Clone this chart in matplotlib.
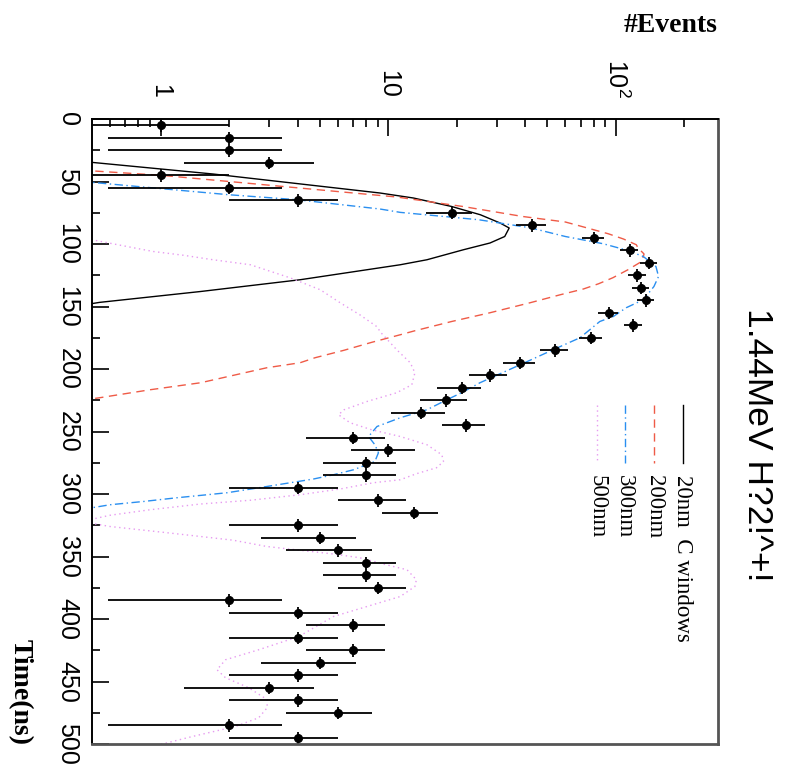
import numpy as np
import matplotlib
matplotlib.use("Agg")
import matplotlib.pyplot as plt
from matplotlib.ticker import FixedLocator, NullFormatter

plt.rcParams['font.family'] = ['Liberation Sans', 'DejaVu Sans']

# measured data: 10 ns bins, counts per bin
time_bins = [5, 15, 25, 35, 45, 55, 65, 75, 85, 95,
             105, 115, 125, 135, 145, 155, 165, 175, 185, 195,
             205, 215, 225, 235, 245, 255, 265, 275, 285, 295,
             305, 315, 325, 335, 345, 355, 365, 375, 385, 395,
             405, 415, 425, 435, 445, 455, 465, 475, 485, 495]
counts = [1, 2, 2, 3, 1, 2, 4, 19, 43, 80,
          115, 140, 124, 129, 135, 93, 119, 78, 54, 38,
          28, 21, 18, 14, 22, 7, 10, 8, 8, 4,
          9, 13, 4, 5, 6, 8, 8, 9, 2, 4,
          7, 4, 7, 5, 4, 3, 4, 6, 2, 4]

# simulated curves (time in ns, events)
t_20nm = [33, 34.7, 44, 59.2, 63.2, 70, 76.6, 83.2, 87.2, 94, 99.2, 104.6,
          112.6, 116.6, 128.6, 138, 146.7, 149]
v_20nm = [0.45, 0.5, 1.7, 9.2, 12.9, 19, 25.4, 31, 34, 32.5, 28, 21.4,
          14.8, 11.3, 4.1, 1.5, 0.54, 0.45]

t_200nm = [40, 41.5, 45, 50, 62.4, 70, 78, 82.4, 85.4, 91.8, 96, 100.6, 103,
           108, 113.9, 120.6, 127, 131.8, 136, 140.6, 147, 155, 162, 169.4,
           172.6, 178.7, 185, 191, 195, 199, 211, 216.6, 223, 225]
v_200nm = [0.45, 0.5, 1, 2, 10.9, 21.3, 39, 60, 69, 92.6, 108, 123, 125,
           133, 130, 113, 97, 84, 72, 57, 42, 28, 19, 13.1,
           11.3, 8.45, 6.4, 4.77, 4.1, 2.93, 1.5, 0.9, 0.54, 0.45]

t_300nm = [49, 50.7, 60.6, 64.6, 72, 74.7, 80.6, 87, 94, 99.8, 105, 110, 118,
           126, 134, 144.6, 151, 158, 162, 175, 184.6, 196.6, 211, 219, 224.6,
           232.6, 239, 246, 254, 260.6, 267, 274, 280.6, 284.6, 288, 294, 299,
           303, 306, 308.6, 311, 312]
v_300nm = [0.45, 0.5, 2, 4, 9.2, 11.3, 25, 42, 60, 88, 112, 132, 150,
           154, 147, 132, 111, 97.5, 85, 69.6, 53, 38, 25.3, 21, 18.1,
           14.8, 11.3, 8.93, 8.2, 8.74, 9.06, 8.74, 7.05, 5.75, 4.7, 2.93, 1.96,
           1.18, 0.84, 0.6, 0.5, 0.45]

t_500nm = [95, 96.6, 103, 106, 109, 112.6, 116.6, 127, 136.6, 147, 156.6, 166,
           171, 184.6, 195, 203, 212.6, 219, 226, 232.6, 236.6, 243, 248.6, 254,
           260.6, 268.6, 274, 279, 283.8, 288.6, 291, 296, 300.6, 305, 308,
           312.6, 317, 322, 326, 331, 334, 337, 342, 345, 348, 351, 356.6,
           360.6, 368.6, 374, 382, 390, 398, 414, 424.6, 432.6, 440.6, 447,
           455, 464.5, 471, 479, 486, 494, 499.4, 500]
v_500nm = [0.45, 0.5, 0.76, 0.93, 1.26, 1.7, 2.48, 3.7, 5.03, 6.15, 7.5, 8.9,
           9.3, 10.9, 12.5, 13.1, 12.7, 10.9, 8.07, 6.4, 6.05, 6.8, 8.45, 11.3,
           14.8, 17.2, 17.5, 16.3, 13.3, 11.3, 8.6, 6.15, 4.1, 2.48, 1.5,
           0.9, 0.6, 0.45, 0.6, 1.07, 1.5, 2.09, 2.93, 4.1, 5.75, 7.5, 9.8,
           12.1, 13.3, 13.1, 11.3, 8.07, 5.75, 4.05, 2.7, 1.93, 1.77, 1.93,
           2.44, 2.94, 2.94, 2.7, 2.13, 1.38, 1.05, 1.0]

labels = ["20nm  C windows", "200nm", "300nm", "500nm"]
colors = ["black", "#ef5b47", "#2a8ff0", "#e69af0"]
dashes = [(None, None), (6, 4), (6, 2.5, 1, 2.5), (1, 2.5)]

fig = plt.figure(figsize=(7.85, 7.73), dpi=100)
ax = fig.add_axes([92 / 785, 1 - 744 / 773, 626 / 785, 625 / 773])

curves = [(t_20nm, v_20nm), (t_200nm, v_200nm), (t_300nm, v_300nm), (t_500nm, v_500nm)]
for (tt, vv), c, d in zip(curves, colors, dashes):
    ln, = ax.plot(vv, tt, color=c, lw=1.0)
    if d[0] is not None:
        ln.set_dashes(d)

cnt = np.array(counts, dtype=float)
err = np.sqrt(cnt)
lo = np.minimum(err, cnt - 1e-3)
ax.errorbar(cnt, time_bins, xerr=[lo, err], yerr=5, fmt='o', ms=5.5,
            color='black', ecolor='black', elinewidth=1.3, capsize=0)

ax.set_xscale('log')
ax.set_xlim(0.5, 281)
ax.set_ylim(500, 0)

ax.xaxis.set_major_locator(FixedLocator([1, 10, 100]))
ax.xaxis.set_minor_locator(FixedLocator([0.6, 0.7, 0.8, 0.9, 2, 3, 4, 5, 6, 7, 8, 9,
                                         20, 30, 40, 50, 60, 70, 80, 90, 200]))
ax.xaxis.set_minor_formatter(NullFormatter())
ax.set_xticklabels(['1', '10', r'$\mathregular{10^{2}}$'])
ax.set_yticks(np.arange(0, 501, 50))
ax.yaxis.set_minor_locator(FixedLocator(np.arange(25, 500, 50)))

ax.tick_params(axis='x', which='both', top=True, bottom=False, labeltop=True,
               labelbottom=False, direction='in', labelrotation=-90,
               labelsize=18, pad=15)
ax.tick_params(axis='x', which='major', length=12, width=1.2)
ax.tick_params(axis='x', which='minor', length=6, width=1.2)
ax.tick_params(axis='y', which='both', left=True, right=False, direction='in',
               labelrotation=-90, labelsize=18, pad=9)
ax.tick_params(axis='y', which='major', length=12, width=1.2)
ax.tick_params(axis='y', which='minor', length=6, width=1.2)
for lab in ax.get_yticklabels():
    lab.set_verticalalignment('center')

for side in ['left', 'top']:
    ax.spines[side].set_linewidth(1.4)
for side in ['right', 'bottom']:
    ax.spines[side].set_linewidth(2)
    ax.spines[side].set_color('#555555')

# legend drawn rotated, like the rest of the picture
leg_x = [0.944, 0.898, 0.851, 0.807]
for x, lab, c, d in zip(leg_x, labels, colors, dashes):
    ln, = ax.plot([x, x], [0.542, 0.4496], transform=ax.transAxes, color=c, lw=1.0)
    if d[0] is not None:
        ln.set_dashes(d)
    ax.text(x, 0.43, lab, transform=ax.transAxes, rotation=-90, ha='center',
            va='top', fontsize=16.5, family='Liberation Serif')

fig.text(757 / 785, 1 - 445 / 773, "1.44MeV H?2!^+!", rotation=-90,
         ha='center', va='center', fontsize=25.5)
fig.text(718 / 785, 1 - 25 / 773, "#Events", ha='right', va='center',
         fontsize=20, family='Liberation Serif', weight='bold')
fig.text(20 / 785, 1 - 745 / 773, "Time(ns)", rotation=-90, ha='center',
         va='bottom', fontsize=20, family='Liberation Serif', weight='bold')

fig.savefig("out.png", dpi=100)
